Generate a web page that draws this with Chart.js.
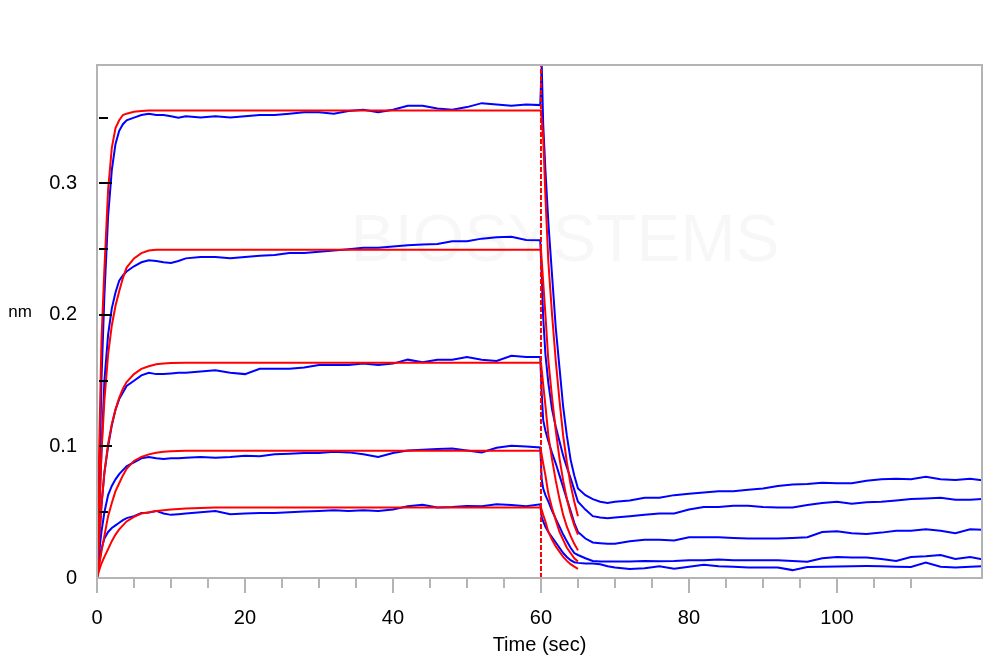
<!DOCTYPE html>
<html>
<head>
<meta charset="utf-8">
<title>Sensorgram</title>
<script src="https://cdn.jsdelivr.net/npm/chart.js@4.4.1/dist/chart.umd.min.js"></script>
<style>
  html, body { margin: 0; padding: 0; background: #fff; }
  #wrap { width: 1000px; height: 669px; }
</style>
</head>
<body>
<div id="wrap"><canvas id="chart" width="1000" height="669"></canvas></div>
<script>
// time axis of the measured traces (sec)
const blueTime = [0, 0.3, 0.6, 1, 1.5, 2, 2.5, 3, 3.5, 4, 5, 6, 7, 8, 9, 10, 11, 12,
  14, 16, 18, 20, 22, 24, 26, 28, 30, 32, 34, 36, 38, 40, 42, 44, 46, 48, 50, 52, 54, 56, 58, 59.9,
  60.1, 60.3, 60.6, 61, 61.5, 62, 62.5, 63, 63.5, 64, 64.5, 65, 66, 67, 68, 69, 70,
  72, 74, 76, 78, 80, 82, 84, 86, 88, 90, 92, 94, 96, 98, 100, 102, 104, 106, 108, 110, 112, 114, 116, 118, 119.6];

// measured (blue), highest concentration first
const blue1 = [0, 0.07, 0.15, 0.215, 0.275, 0.31, 0.33, 0.34, 0.345, 0.348, 0.350, 0.352, 0.353, 0.352, 0.352, 0.351, 0.350, 0.351,
  0.350, 0.351, 0.350, 0.351, 0.352, 0.352, 0.353, 0.354, 0.354, 0.353, 0.355, 0.356, 0.354, 0.356, 0.359, 0.359, 0.357, 0.356, 0.358, 0.361, 0.360, 0.359, 0.360, 0.3595,
  0.39, 0.345, 0.31, 0.27, 0.23, 0.19, 0.16, 0.13, 0.108, 0.09, 0.078, 0.068, 0.063, 0.060, 0.058, 0.057, 0.058,
  0.059, 0.061, 0.061, 0.063, 0.064, 0.065, 0.066, 0.066, 0.067, 0.068, 0.070, 0.071, 0.0715, 0.0725, 0.072, 0.072, 0.074, 0.075, 0.0755, 0.075, 0.077, 0.075, 0.0745, 0.0755, 0.0744];
const blue2 = [0, 0.05, 0.095, 0.15, 0.185, 0.205, 0.217, 0.226, 0.23, 0.233, 0.237, 0.240, 0.2415, 0.241, 0.240, 0.2395, 0.241, 0.243,
  0.244, 0.244, 0.243, 0.244, 0.245, 0.2455, 0.247, 0.247, 0.248, 0.249, 0.250, 0.251, 0.251, 0.252, 0.253, 0.2535, 0.254, 0.256, 0.256, 0.258, 0.259, 0.2595, 0.257, 0.2567,
  0.23, 0.198, 0.17, 0.148, 0.128, 0.115, 0.104, 0.093, 0.084, 0.076, 0.067, 0.058, 0.052, 0.047, 0.046, 0.0455, 0.046,
  0.047, 0.048, 0.049, 0.049, 0.052, 0.054, 0.054, 0.055, 0.055, 0.054, 0.0536, 0.0536, 0.0555, 0.057, 0.058, 0.0565, 0.0575, 0.058, 0.059, 0.060, 0.0605, 0.061, 0.0595, 0.0595, 0.060];
const blue3 = [0, 0.03, 0.055, 0.08, 0.10, 0.116, 0.128, 0.136, 0.141, 0.146, 0.150, 0.154, 0.156, 0.155, 0.155, 0.1555, 0.156, 0.156,
  0.157, 0.158, 0.156, 0.155, 0.159, 0.159, 0.159, 0.160, 0.162, 0.162, 0.162, 0.163, 0.162, 0.163, 0.166, 0.164, 0.166, 0.166, 0.168, 0.166, 0.165, 0.169, 0.168, 0.168,
  0.14, 0.12, 0.112, 0.104, 0.095, 0.087, 0.078, 0.069, 0.060, 0.051, 0.042, 0.035, 0.030, 0.027, 0.0265, 0.026, 0.026,
  0.028, 0.029, 0.029, 0.0285, 0.031, 0.031, 0.031, 0.0305, 0.030, 0.030, 0.030, 0.0305, 0.031, 0.035, 0.0355, 0.034, 0.0335, 0.0345, 0.036, 0.036, 0.037, 0.036, 0.034, 0.037, 0.0366];
const blue4 = [0, 0.02, 0.035, 0.05, 0.063, 0.07, 0.075, 0.079, 0.082, 0.085, 0.088, 0.091, 0.092, 0.091, 0.0905, 0.091, 0.091, 0.0915,
  0.092, 0.0915, 0.092, 0.093, 0.0925, 0.094, 0.0945, 0.095, 0.095, 0.096, 0.0955, 0.094, 0.092, 0.095, 0.097, 0.0975, 0.098, 0.0985, 0.097, 0.0955, 0.099, 0.1005, 0.100, 0.0993,
  0.075, 0.068, 0.063, 0.058, 0.051, 0.045, 0.039, 0.033, 0.028, 0.023, 0.019, 0.0175, 0.015, 0.013, 0.0125, 0.0125, 0.0125,
  0.0125, 0.013, 0.0128, 0.013, 0.0135, 0.0135, 0.014, 0.0135, 0.0135, 0.0135, 0.0135, 0.013, 0.0124, 0.015, 0.016, 0.0155, 0.0155, 0.0145, 0.013, 0.016, 0.0165, 0.0175, 0.0145, 0.016, 0.0142];
const blue5 = [0, 0.012, 0.022, 0.03, 0.035, 0.038, 0.040, 0.042, 0.044, 0.0455, 0.047, 0.0495, 0.0497, 0.051, 0.049, 0.048, 0.0485, 0.049,
  0.050, 0.051, 0.0485, 0.049, 0.0495, 0.0495, 0.050, 0.0505, 0.051, 0.0515, 0.051, 0.0515, 0.051, 0.052, 0.0545, 0.0556, 0.0536, 0.054, 0.0548, 0.0545, 0.056, 0.0555, 0.0545, 0.056,
  0.046, 0.043, 0.039, 0.035, 0.031, 0.027, 0.023, 0.019, 0.016, 0.0135, 0.012, 0.0115, 0.011, 0.011, 0.0105, 0.009, 0.008,
  0.0068, 0.0075, 0.009, 0.007, 0.0085, 0.010, 0.009, 0.0085, 0.008, 0.008, 0.0079, 0.006, 0.0084, 0.0085, 0.0088, 0.009, 0.0091, 0.009, 0.0086, 0.0084, 0.0117, 0.0085, 0.008, 0.0086, 0.0089];

// fitted curves (red)
const redTime = [0, 0.3, 0.6, 1, 1.5, 2, 2.5, 3, 3.5, 4, 5, 6, 7, 8, 9, 10, 12, 14, 16, 60,
  60.3, 60.6, 61, 61.5, 62, 62.5, 63, 63.5, 64, 64.5, 65];
const red1 = [0, 0.10, 0.18, 0.235, 0.295, 0.327, 0.342, 0.348, 0.352, 0.353, 0.3545, 0.355, 0.3555, 0.3555, 0.3555, 0.3555, 0.3555, 0.3555, 0.3555, 0.3555,
  0.335, 0.29, 0.24, 0.20, 0.165, 0.135, 0.108, 0.088, 0.071, 0.058, 0.047];
const red2 = [0, 0.05, 0.095, 0.135, 0.17, 0.192, 0.207, 0.218, 0.228, 0.236, 0.243, 0.247, 0.249, 0.2496, 0.2496, 0.2496, 0.2496, 0.2496, 0.2496, 0.2496,
  0.225, 0.20, 0.165, 0.137, 0.112, 0.091, 0.074, 0.060, 0.049, 0.040, 0.033];
const red3 = [0, 0.03, 0.055, 0.08, 0.102, 0.117, 0.128, 0.137, 0.144, 0.149, 0.155, 0.159, 0.161, 0.1625, 0.163, 0.1635, 0.1637, 0.1637, 0.1637, 0.1637,
  0.147, 0.131, 0.108, 0.090, 0.074, 0.060, 0.048, 0.039, 0.032, 0.026, 0.021];
const red4 = [0, 0.01, 0.02, 0.032, 0.047, 0.057, 0.066, 0.072, 0.078, 0.083, 0.089, 0.092, 0.094, 0.0952, 0.096, 0.0963, 0.0967, 0.0967, 0.0967, 0.0967,
  0.087, 0.078, 0.064, 0.053, 0.044, 0.035, 0.029, 0.023, 0.019, 0.015, 0.0125];
const red5 = [0, 0.006, 0.011, 0.016, 0.022, 0.028, 0.033, 0.037, 0.040, 0.043, 0.0465, 0.049, 0.050, 0.051, 0.0515, 0.052, 0.0528, 0.0533, 0.0536, 0.0536,
  0.048, 0.043, 0.035, 0.029, 0.024, 0.020, 0.016, 0.013, 0.0105, 0.0086, 0.007];

// start of dissociation
const stepTime = 60;
const xMax = 119.6, yMax = 0.39;

const pts = (ts, vs) => ts.map((t, i) => ({ x: t, y: vs[i] }));

const datasets = [];
[red1, red2, red3, red4, red5].forEach((r, i) => datasets.push({
  label: 'fit ' + (i + 1), data: pts(redTime, r), borderColor: '#ff0000',
  borderWidth: 2, pointRadius: 0, tension: 0, order: 0
}));
[blue1, blue2, blue3, blue4, blue5].forEach((b, i) => datasets.push({
  label: 'data ' + (i + 1), data: pts(blueTime, b), borderColor: '#0000ff',
  borderWidth: 2, pointRadius: 0, tension: 0, order: 1
}));
datasets.push({
  label: 'step', data: [{ x: stepTime, y: 0 }, { x: stepTime, y: yMax }],
  borderColor: '#ff0000', borderWidth: 2, borderDash: [5, 2], pointRadius: 0, order: 0
});

const near = (v, s) => Math.abs(v / s - Math.round(v / s)) < 1e-6;

const frame = {
  id: 'frame',
  beforeDatasetsDraw(chart) {
    const { ctx } = chart;
    ctx.save();
    ctx.fillStyle = 'rgba(0,0,0,0.03)';
    ctx.font = '66px "Liberation Sans", Arial, sans-serif';
    ctx.textAlign = 'center';
    ctx.textBaseline = 'middle';
    ctx.fillText('BIOSYSTEMS', 565, 243);
    ctx.restore();
  },
  afterDraw(chart) {
    const { ctx, chartArea: a, scales: { x, y } } = chart;
    ctx.save();
    ctx.strokeStyle = '#b4b4b4';
    ctx.lineWidth = 2;
    ctx.strokeRect(a.left, a.top, a.right - a.left, a.bottom - a.top);
    // x ticks, grey, below the axis
    x.ticks.forEach(tk => {
      if (!near(tk.value, 5)) return;
      const px = Math.round(x.getPixelForValue(tk.value));
      const len = near(tk.value, 20) ? 15 : 10;
      ctx.beginPath();
      ctx.moveTo(px, a.bottom);
      ctx.lineTo(px, a.bottom + len);
      ctx.stroke();
    });
    // y ticks, black, inside the plot
    ctx.strokeStyle = '#000';
    y.ticks.forEach(tk => {
      if (tk.value <= 0 || !near(tk.value, 0.05)) return;
      const py = Math.round(y.getPixelForValue(tk.value));
      const len = near(tk.value, 0.1) ? 13 : 9;
      ctx.beginPath();
      ctx.moveTo(a.left + 2, py);
      ctx.lineTo(a.left + 2 + len, py);
      ctx.stroke();
    });
    ctx.fillStyle = '#000';
    ctx.font = '17px "Liberation Sans", Arial, sans-serif';
    ctx.textAlign = 'center';
    ctx.textBaseline = 'middle';
    ctx.fillText('nm', 20, 312);
    ctx.restore();
  }
};

const tickFont = { family: '"Liberation Sans", Arial, sans-serif', size: 20 };

new Chart(document.getElementById('chart'), {
  type: 'line',
  data: { datasets },
  options: {
    responsive: false,
    animation: false,
    parsing: false,
    layout: { autoPadding: false, padding: { top: 65, right: 18, left: 0, bottom: 0 } },
    plugins: { legend: { display: false }, tooltip: { enabled: false } },
    scales: {
      x: {
        type: 'linear', min: 0, max: xMax,
        afterFit: s => { s.height = 91; s.paddingLeft = 0; s.paddingRight = 0; },
        grid: { display: false, drawTicks: false },
        border: { display: false },
        ticks: {
          stepSize: 5, autoSkip: false, maxRotation: 0, padding: 28,
          color: '#000', font: tickFont,
          callback: v => near(v, 20) ? String(v) : ''
        },
        title: { display: true, text: 'Time (sec)', color: '#000', font: tickFont, padding: { top: 0, bottom: 12 } }
      },
      y: {
        type: 'linear', min: 0, max: yMax,
        afterFit: s => { s.width = 97; s.paddingTop = 0; s.paddingBottom = 0; },
        grid: { display: false, drawTicks: false },
        border: { display: false },
        ticks: {
          stepSize: 0.05, autoSkip: false, padding: 20,
          color: '#000', font: tickFont,
          callback: v => (near(v, 0.1) && v < 0.35) ? String(Math.round(v * 10) / 10) : ''
        }
      }
    }
  },
  plugins: [frame]
});
</script>
</body>
</html>
